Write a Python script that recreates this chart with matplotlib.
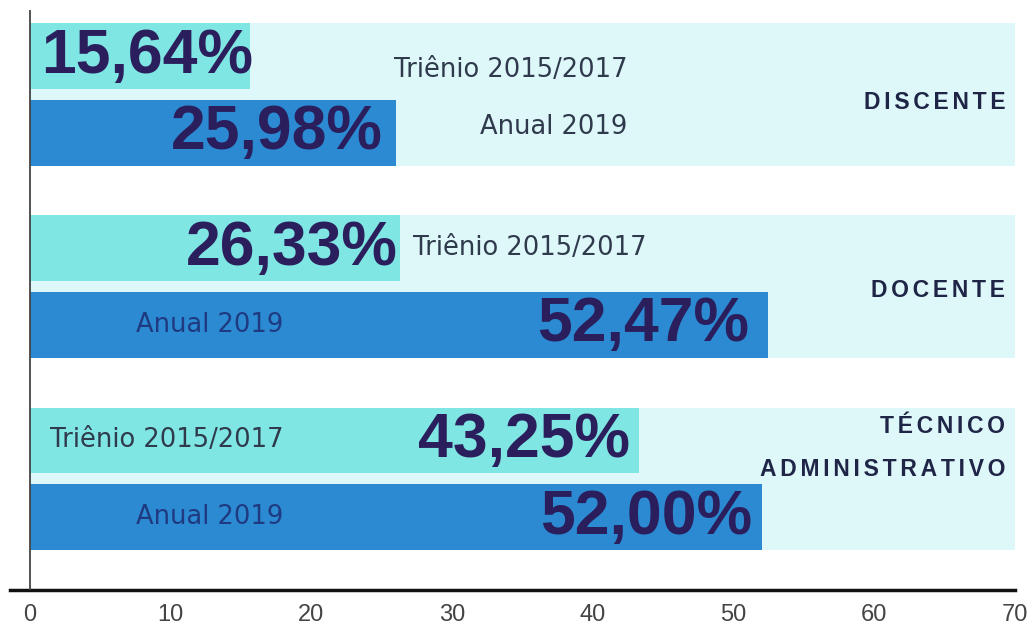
import matplotlib
matplotlib.use("Agg")
import matplotlib.pyplot as plt

# ---- data ----
categories = ["DISCENTE", "DOCENTE", "TÉCNICO\nADMINISTRATIVO"]
series_names = ["Triênio 2015/2017", "Anual 2019"]
trienio = [15.64, 26.33, 43.25]
anual = [25.98, 52.47, 52.00]
xticks = [0, 10, 20, 30, 40, 50, 60, 70]

def fmt(v):
    return f"{v:.2f}%".replace(".", ",")

def spaced(s, sep="\u200a"):
    return "\n".join(sep.join(list(line)) for line in s.split("\n"))

C_BAND = "#def8f9"
C_LIGHT = "#80e6e3"
C_BLUE = "#2b8ad2"
C_NUM = "#2a1f5c"
C_TXT = "#2f3a4c"
C_TXT_BLUE = "#1f3a80"
C_CAT = "#1f2547"

fig = plt.figure(figsize=(10.29, 6.26), dpi=100)
ax = fig.add_axes([10 / 1029, 36 / 626, 1005 / 1029, 580 / 626])

centers = list(range(len(categories)))
off = 0.2
h = 0.34

# background bands
ax.barh(centers, [70] * len(centers), height=0.74, left=0, color=C_BAND, zorder=1)
ax.barh([c - off for c in centers], trienio, height=h, color=C_LIGHT, zorder=2)
ax.barh([c + off for c in centers], anual, height=h, color=C_BLUE, zorder=2)

ax.set_xlim(-1.42, 70)
ax.set_ylim(2.58, -0.44)
ax.axvline(0, color="#444444", lw=1.3, zorder=3)

for s in ["top", "right", "left"]:
    ax.spines[s].set_visible(False)
ax.spines["bottom"].set_linewidth(2.5)
ax.spines["bottom"].set_color("#111111")
ax.set_yticks([])
ax.set_xticks(xticks)
ax.set_xticklabels([str(t) for t in xticks], fontsize=17, color="#444444",
                   family="Liberation Sans")
ax.tick_params(axis="x", length=0, pad=10)

big = dict(fontsize=45, fontweight="bold", color=C_NUM, family="Liberation Sans",
           va="center", zorder=4)
small = dict(fontsize=18.5, family="DejaVu Sans", va="center", zorder=4)
tri_lbl = series_names[0]
anu_lbl = series_names[1]

# Discente
c = 0
ax.text(0.8, c - off, fmt(trienio[c]), ha="left", **big)
ax.text(anual[c] - 0.9, c + off, fmt(anual[c]), ha="right", **big)
ax.text(25.9, c - off + 0.07, tri_lbl, ha="left", color=C_TXT, **small)
ax.text(32.0, c + off - 0.03, anu_lbl, ha="left", color=C_TXT, **small)

# Docente
c = 1
ax.text(trienio[c] - 0.2, c - off, fmt(trienio[c]), ha="right", **big)
ax.text(trienio[c] + 0.9, c - off, tri_lbl, ha="left", color=C_TXT, **small)
ax.text(7.5, c + off, anu_lbl, ha="left", color=C_TXT_BLUE, **small)
ax.text(anual[c] - 1.4, c + off, fmt(anual[c]), ha="right", **big)

# Técnico
c = 2
ax.text(1.4, c - off, tri_lbl, ha="left", color=C_TXT, **small)
ax.text(trienio[c] - 0.6, c - off, fmt(trienio[c]), ha="right", **big)
ax.text(7.5, c + off, anu_lbl, ha="left", color=C_TXT_BLUE, **small)
ax.text(anual[c] - 0.7, c + off, fmt(anual[c]), ha="right", **big)

# category labels
cat_dy = [0.04, 0.02, -0.16]
for c, name in enumerate(categories):
    ax.text(69.3, c + cat_dy[c], spaced(name, "\u200a\u200a"), ha="right",
            va="center", fontsize=16.5, fontweight="bold", color=C_CAT,
            family="Liberation Sans", linespacing=2.1, zorder=4)

fig.savefig("out.png", dpi=100)
